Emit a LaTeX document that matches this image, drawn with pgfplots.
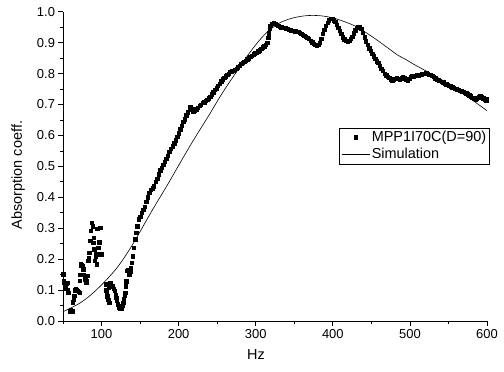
\documentclass[border=0pt]{standalone}
\usepackage{fontspec}
\setmainfont{Liberation Sans}
\usepackage{pgfplots}
\pgfplotsset{compat=1.18}
\pgfplotsset{
  markleg/.style={legend image code/.code={\draw[mark repeat=2,mark phase=2,##1] plot coordinates {(0bp,0bp) (14bp,0bp) (28bp,0bp)};}},
  lineleg/.style={legend image code/.code={\draw[##1] (0bp,0bp) -- (28bp,0bp);}},
}
\begin{document}
\begin{tikzpicture}
\begin{axis}[
  scale only axis,
  width=424bp, height=309.3bp,
  xmin=50, xmax=600, ymin=0, ymax=1,
  axis lines=left,
  axis line style={-, line width=0.8pt},
  tick align=outside,
  major tick length=4.5bp, minor tick length=3bp,
  every tick/.style={black, line width=0.7pt},
  xtick={100,200,...,600},
  minor xtick={50,150,...,550},
  ytick={0,0.1,...,1.01},
  minor ytick={0.05,0.15,...,0.96},
  /pgf/number format/assume math mode=true,
  yticklabel style={/pgf/number format/.cd, fixed, fixed zerofill, precision=1},
  xticklabel style={/pgf/number format/.cd, fixed},
  tick label style={font=\fontsize{13}{15}\selectfont},
  xlabel={Hz},
  ylabel={Absorption coeff.},
  every axis x label/.style={at={(axis description cs:0.455,-0.110)}, anchor=center, font=\fontsize{14.5}{16}\selectfont},
  every axis y label/.style={at={(axis description cs:-0.106,0.472)}, anchor=center, rotate=90, font=\fontsize{14.5}{16}\selectfont},
  clip=false,
  legend style={at={(axis description cs:1.007,0.625)}, anchor=north east, draw=black, line width=0.5pt,
    font=\fontsize{14.5}{16}\selectfont, inner sep=1.5pt, row sep=1pt},
  legend cell align=left,
]
\addplot[only marks, mark=square*, mark size=1.7bp, black, markleg]
  coordinates {
(50.4,0.151)(50.8,0.13)(51.7,0.124)(52.5,0.105)(53.7,0.113)(54.5,0.12)(55.3,0.124)(56.2,0.10)(56.9,0.092)
(59,0.032)(60,0.035)(61,0.03)(62.5,0.032)(62.6,0.061)(63.5,0.07)(64.4,0.081)(65.7,0.10)(66.5,0.105)(67.5,0.10)(68.7,0.097)(70,0.095)(71.3,0.092)
(71.3,0.13)(72.2,0.15)(73,0.183)(73.8,0.18)(74.7,0.178)(75.5,0.17)(76.4,0.167)(77.2,0.15)(78.6,0.135)(79.9,0.124)(80.7,0.13)(81.6,0.146)
(82.9,0.194)(83.5,0.205)(84.2,0.221)(85.1,0.26)(86,0.291)(87.3,0.318)(88.6,0.307)(89.4,0.253)(90.2,0.27)(90.7,0.232)(91.5,0.194)(92.2,0.21)(92.8,0.216)
(93.6,0.183)(94.5,0.298)(95.8,0.237)(95.8,0.216)(97,0.255)(98,0.302)(98.9,0.216)(100.2,0.216)
(105.8,0.119)(106.2,0.10)(106.7,0.092)(107.4,0.08)(108,0.076)(108.5,0.068)(109,0.108)(110,0.059)(110.5,0.118)(111.2,0.123)(112,0.119)(113.3,0.115)(114.6,0.113)
(115.7,0.105)(116.8,0.097)(118,0.086)(119,0.076)(120,0.065)(121,0.054)(122,0.048)(123,0.043)(124,0.041)(125.3,0.04)(126.4,0.044)(127.4,0.049)
(128.2,0.06)(129,0.07)(129.8,0.082)(130.5,0.092)(131.4,0.113)(132.2,0.129)(133,0.162)(134,0.165)(134.8,0.162)(136,0.151)(137,0.16)(137.7,0.173)
(139,0.189)(140.4,0.21)(142,0.237)(143.8,0.264)(145,0.286)(146.4,0.307)(148,0.329)
(150,0.337)(152,0.35)(154,0.36)(156,0.37)(158,0.385)(160,0.40)(162,0.415)(164,0.425)(166,0.43)(168,0.436)(170,0.45)(172,0.46)(174,0.475)(176,0.488)(178,0.495)
(180,0.505)(182,0.515)(184,0.525)(186,0.535)(188,0.548)(190,0.558)(192,0.565)(194,0.575)(196,0.585)(198,0.595)(200,0.607)(202,0.62)(204,0.632)(206,0.644)
(208,0.652)(210,0.665)(212,0.675)(214,0.69)(215,0.693)(217,0.685)(219,0.676)(221,0.68)(223,0.685)(225,0.69)(227,0.697)(229,0.70)(231,0.705)(233,0.708)
(235,0.712)(237,0.716)(239,0.72)(241,0.725)(243,0.733)(245,0.74)(247,0.747)(249,0.753)(251,0.76)(253,0.768)(255,0.775)(257,0.782)(259,0.787)(261,0.792)
(263,0.796)(265,0.80)(267,0.806)(269,0.808)(271,0.81)(273,0.812)(275,0.816)(277,0.82)(279,0.826)(281,0.832)(283,0.835)(285,0.838)(287,0.842)(289,0.846)
(291,0.85)(293,0.855)(295,0.858)(297,0.862)(299,0.866)(301,0.868)(303,0.872)(305,0.876)(307,0.88)(309,0.885)(311,0.889)(313,0.893)(315,0.90)(316,0.915)
(317,0.93)(318,0.945)(319,0.955)(321,0.962)(323,0.964)(325,0.962)(327,0.958)(329,0.955)(331,0.952)(333,0.95)(335,0.949)(337,0.948)(339,0.947)(341,0.945)
(343,0.942)(345,0.94)(347,0.939)(349,0.938)(351,0.937)(353,0.936)(355,0.935)(357,0.932)(359,0.929)(361,0.926)(363,0.922)(365,0.919)(367,0.916)(369,0.912)
(371,0.907)(373,0.902)(375,0.897)(377,0.894)(379,0.892)(381,0.894)(383,0.90)(385,0.912)(387,0.928)(389,0.942)(391,0.955)(393,0.965)(395,0.973)(397,0.978)
(399,0.977)(401,0.973)(403,0.967)(405,0.958)(407,0.948)(409,0.938)(411,0.928)(413,0.918)(415,0.911)(417,0.907)(419,0.905)(421,0.907)(423,0.913)(425,0.92)
(427,0.93)(429,0.94)(431,0.948)(433,0.951)(435,0.95)(437,0.945)(439,0.932)(441,0.918)(443,0.905)(445,0.893)(447,0.882)(449,0.873)(451,0.865)(453,0.856)
(455,0.848)(457,0.84)(459,0.835)(461,0.826)(463,0.815)(465,0.81)(467,0.80)(469,0.795)(471,0.79)(473,0.786)(475,0.782)(477,0.779)(479,0.781)(481,0.784)
(483,0.787)(485,0.784)(487,0.78)(489,0.785)(491,0.79)(493,0.787)(495,0.782)(497,0.779)(499,0.784)(501,0.789)(503,0.791)(505,0.789)(507,0.793)(509,0.796)
(511,0.795)(513,0.797)(515,0.798)(517,0.80)(519,0.799)(521,0.801)(523,0.799)(525,0.797)(527,0.797)(529,0.793)(531,0.789)(533,0.785)(535,0.781)(537,0.778)
(539,0.777)(541,0.774)(543,0.772)(545,0.768)(547,0.766)(549,0.764)(551,0.761)(553,0.759)(555,0.756)(557,0.754)(559,0.751)(561,0.749)(563,0.747)(565,0.745)
(567,0.743)(569,0.741)(571,0.739)(573,0.736)(575,0.733)(577,0.730)(579,0.727)(581,0.722)(583,0.718)(585,0.715)(587,0.72)(589,0.724)(591,0.727)(593,0.725)
(595,0.72)(597,0.715)(599,0.713)(600,0.718)
};
\addlegendentry{MPP1I70C(D=90)}
\addplot[black, line width=0.6pt, smooth, no marks, lineleg]
  coordinates {
(50,0.03)(60,0.042)(70,0.055)(80,0.072)(90,0.093)(100,0.117)(110,0.143)(120,0.172)(130,0.207)(140,0.246)(150,0.289)(160,0.333)(170,0.376)
(185,0.438)(200,0.503)(215,0.567)(228,0.62)(240,0.668)(250,0.71)(260,0.75)(270,0.787)(280,0.823)(290,0.86)(300,0.893)(310,0.922)(320,0.945)
(332,0.965)(343,0.976)(354,0.983)(365,0.987)(375,0.988)(387,0.986)(400,0.98)(416,0.967)(432,0.95)(447,0.926)(462,0.90)(474,0.878)(484,0.86)
(495,0.845)(505,0.83)(516,0.815)(527,0.80)(541,0.78)(556,0.757)(570,0.733)(585,0.707)(600,0.68)
};
\addlegendentry{Simulation}
\end{axis}
\pgfresetboundingbox
\path (-63bp,-51bp) rectangle (441bp,321bp);
\end{tikzpicture}
\end{document}
